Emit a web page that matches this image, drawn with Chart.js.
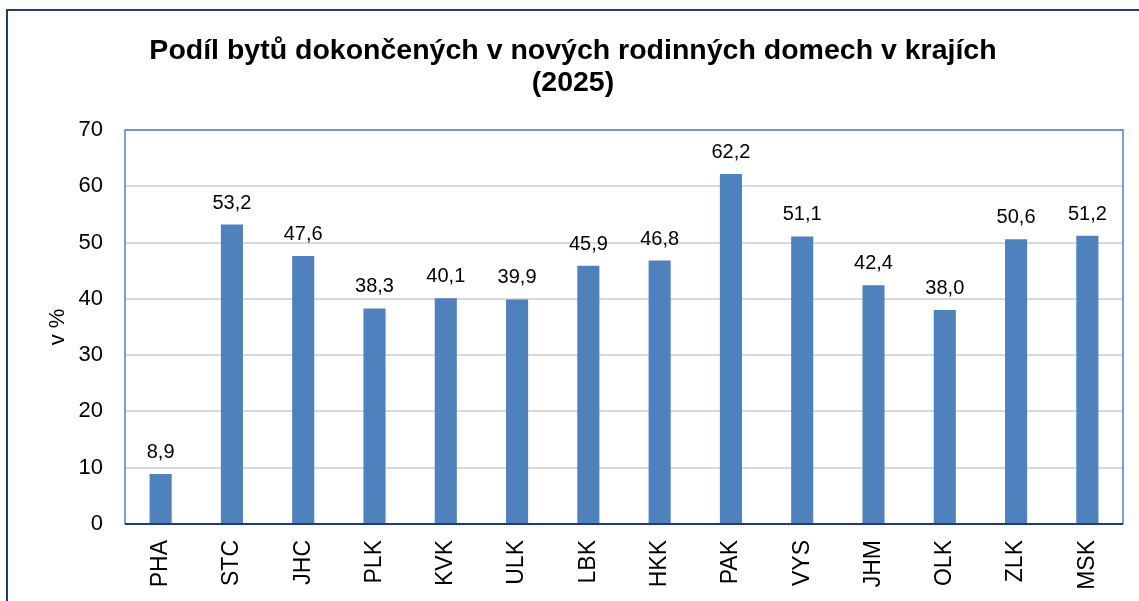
<!DOCTYPE html>
<html>
<head>
<meta charset="utf-8">
<script src="https://cdn.jsdelivr.net/npm/chart.js@4/dist/chart.umd.min.js"></script>
<style>
  html, body { margin: 0; padding: 0; background: #ffffff; }
  #wrap { width: 1139px; height: 601px; position: relative; }
</style>
</head>
<body>
<div id="wrap"><canvas id="c" width="1139" height="601"></canvas></div>
<script>
const categories = ['PHA','STC','JHC','PLK','KVK','ULK','LBK','HKK','PAK','VYS','JHM','OLK','ZLK','MSK'];
const values = [8.9, 53.2, 47.6, 38.3, 40.1, 39.9, 45.9, 46.8, 62.2, 51.1, 42.4, 38.0, 50.6, 51.2];
const titleLines = ['Podíl bytů dokončených v nových rodinných domech v krajích', '(2025)'];
const yAxisTitle = 'v %';
const yMin = 0, yMax = 70, yStep = 10;

const FONT = "'Liberation Sans', Arial, sans-serif";

const framePlugin = {
  id: 'frame',
  beforeDraw(chart) {
    const ctx = chart.ctx;
    ctx.save();
    ctx.fillStyle = '#ffffff';
    ctx.fillRect(0, 0, chart.width, chart.height);
    ctx.strokeStyle = '#1f3c78';
    ctx.lineWidth = 2;
    ctx.strokeRect(7, 10, chart.width + 20, chart.height + 20);
    ctx.restore();
  },
  afterDraw(chart) {
    const a = chart.chartArea, ctx = chart.ctx;
    ctx.save();
    ctx.strokeStyle = '#4f81bd';
    ctx.lineWidth = 1.5;
    ctx.beginPath();
    ctx.moveTo(a.left, a.bottom);
    ctx.lineTo(a.left, a.top);
    ctx.lineTo(a.right, a.top);
    ctx.lineTo(a.right, a.bottom);
    ctx.stroke();
    ctx.strokeStyle = '#1f3c6e';
    ctx.lineWidth = 2;
    ctx.beginPath();
    ctx.moveTo(a.left, a.bottom);
    ctx.lineTo(a.right, a.bottom);
    ctx.stroke();
    // chart title
    ctx.fillStyle = '#000000';
    ctx.font = 'bold 28.5px ' + FONT;
    ctx.textAlign = 'center';
    ctx.textBaseline = 'middle';
    titleLines.forEach((t, i) => ctx.fillText(t, 573, 51 + i * 32));
    ctx.restore();
  }
};

const labelPlugin = {
  id: 'barLabels',
  afterDatasetsDraw(chart) {
    const ctx = chart.ctx;
    const meta = chart.getDatasetMeta(0);
    ctx.save();
    ctx.font = '20px ' + FONT;
    ctx.fillStyle = '#000000';
    ctx.textAlign = 'center';
    ctx.textBaseline = 'alphabetic';
    meta.data.forEach((bar, i) => {
      const txt = values[i].toFixed(1).replace('.', ',');
      ctx.fillText(txt, bar.x, bar.y - 16);
    });
    ctx.restore();
  }
};

new Chart(document.getElementById('c'), {
  type: 'bar',
  data: {
    labels: categories,
    datasets: [{
      data: values,
      backgroundColor: '#4f81bd',
      borderWidth: 0,
      barPercentage: 0.31,
      categoryPercentage: 1.0
    }]
  },
  options: {
    responsive: false,
    animation: false,
    devicePixelRatio: 1,
    layout: { padding: { left: 0, right: 16, top: 130, bottom: 0 } },
    plugins: {
      legend: { display: false },
      tooltip: { enabled: false },
      title: { display: false }
    },
    scales: {
      x: {
        grid: { display: false, drawTicks: false },
        border: { display: false },
        ticks: {
          color: '#000000',
          font: { family: FONT, size: 23 },
          minRotation: 90,
          maxRotation: 90,
          padding: 16
        },
        afterFit(scale) { scale.height = 77; }
      },
      y: {
        min: yMin,
        max: yMax,
        grid: { color: '#d9d9d9', lineWidth: 2, drawTicks: false },
        border: { display: false },
        ticks: {
          stepSize: yStep,
          color: '#000000',
          font: { family: FONT, size: 22 },
          padding: 22
        },
        title: {
          display: true,
          text: yAxisTitle,
          color: '#000000',
          font: { family: FONT, size: 22 },
          padding: { top: 45, bottom: 0 }
        },
        afterFit(scale) { scale.width = 125; }
      }
    }
  },
  plugins: [framePlugin, labelPlugin]
});
</script>
</body>
</html>
